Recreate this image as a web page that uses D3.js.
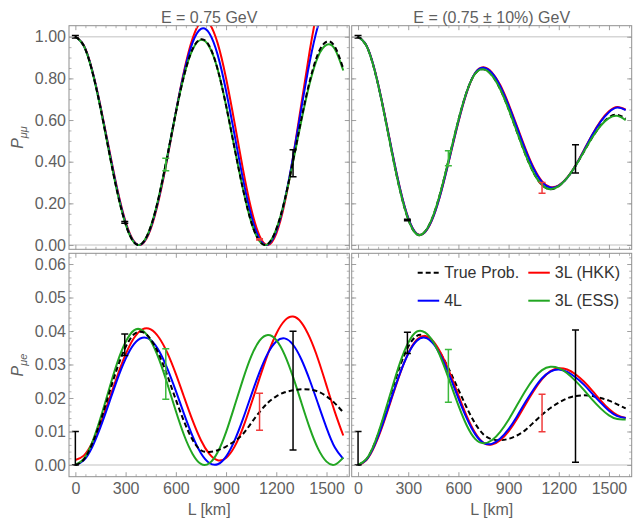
<!DOCTYPE html>
<html>
<head>
<meta charset="utf-8">
<script src="https://cdn.jsdelivr.net/npm/d3@7"></script>
<style>
  body { margin: 0; background: #fff; }
  svg { display: block; }
  text { font-family: "Liberation Sans", Arial, sans-serif; }
</style>
</head>
<body>
<div class="container"></div>
<script>
// ---- data ----
// baseline L (km) where the curves were sampled
const distKm = [0, 50, 100, 150, 200, 250, 300, 350, 400, 450, 500, 550, 600, 650, 700, 750, 800,
  850, 900, 950, 1000, 1050, 1100, 1150, 1200, 1250, 1300, 1350, 1400, 1450, 1500, 1550, 1600];

// P(mu->mu), E = 0.75 GeV
const pmmTrue = [1.000, 0.957, 0.836, 0.658, 0.452, 0.255, 0.100, 0.013, 0.009, 0.088, 0.237, 0.431, 0.635, 0.816, 0.941, 0.988, 0.956,
  0.843, 0.670, 0.468, 0.272, 0.111, 0.018, 0.005, 0.076, 0.216, 0.403, 0.606, 0.788, 0.920, 0.976, 0.952, 0.847];
const pmmHKK = [1.000, 0.959, 0.842, 0.668, 0.467, 0.270, 0.112, 0.018, 0.005, 0.077, 0.223, 0.419, 0.637, 0.838, 0.991, 1.071, 1.063,
  0.968, 0.801, 0.590, 0.368, 0.174, 0.044, 0.000, 0.055, 0.201, 0.421, 0.679, 0.934, 1.147, 1.280, 1.271, 1.127];
const pmm4L = [1.000, 0.958, 0.839, 0.663, 0.460, 0.263, 0.106, 0.015, 0.007, 0.083, 0.231, 0.426, 0.638, 0.831, 0.972, 1.038, 1.017,
  0.913, 0.741, 0.532, 0.321, 0.143, 0.029, 0.002, 0.066, 0.214, 0.422, 0.657, 0.881, 1.055, 1.152, 1.140, 1.058];
const pmmESS = [1.000, 0.957, 0.836, 0.658, 0.452, 0.255, 0.100, 0.013, 0.009, 0.088, 0.237, 0.431, 0.635, 0.816, 0.938, 0.985, 0.952,
  0.843, 0.670, 0.468, 0.272, 0.111, 0.018, 0.005, 0.076, 0.214, 0.399, 0.598, 0.778, 0.906, 0.961, 0.940, 0.838];

// P(mu->mu), E = 0.75 GeV +- 10%
const pmmAvgTrue = [1.000, 0.957, 0.835, 0.657, 0.454, 0.265, 0.123, 0.052, 0.064, 0.143, 0.275, 0.437, 0.600, 0.737, 0.823, 0.844, 0.815,
  0.748, 0.652, 0.543, 0.436, 0.346, 0.288, 0.268, 0.283, 0.322, 0.380, 0.448, 0.516, 0.574, 0.613, 0.625, 0.607];
const pmmAvgHKK = [1.000, 0.958, 0.839, 0.663, 0.463, 0.275, 0.130, 0.055, 0.061, 0.135, 0.264, 0.426, 0.591, 0.733, 0.826, 0.853, 0.829,
  0.768, 0.677, 0.571, 0.464, 0.371, 0.306, 0.278, 0.286, 0.323, 0.382, 0.455, 0.530, 0.595, 0.642, 0.663, 0.650];
const pmmAvg4L = [1.000, 0.958, 0.838, 0.661, 0.461, 0.273, 0.129, 0.054, 0.062, 0.137, 0.267, 0.429, 0.594, 0.735, 0.826, 0.851, 0.826,
  0.763, 0.671, 0.565, 0.458, 0.366, 0.302, 0.276, 0.285, 0.322, 0.381, 0.453, 0.528, 0.592, 0.638, 0.660, 0.648];
const pmmAvgESS = [1.000, 0.957, 0.835, 0.657, 0.454, 0.265, 0.123, 0.052, 0.064, 0.143, 0.275, 0.437, 0.600, 0.737, 0.823, 0.844, 0.815,
  0.748, 0.652, 0.543, 0.436, 0.346, 0.288, 0.268, 0.283, 0.322, 0.380, 0.448, 0.516, 0.572, 0.609, 0.620, 0.600];

// P(mu->e), E = 0.75 GeV
const pmeTrue = [0.0000, 0.0016, 0.0063, 0.0131, 0.0211, 0.0289, 0.0352, 0.0390, 0.0397, 0.0375, 0.0329, 0.0266, 0.0195, 0.0129, 0.0075, 0.0044, 0.0039,
  0.0044, 0.0055, 0.0071, 0.0092, 0.0125, 0.0158, 0.0186, 0.0205, 0.0217, 0.0223, 0.0226, 0.0225, 0.0219, 0.0205, 0.0184, 0.0157];
const pmeHKK = [0.0015, 0.0028, 0.0066, 0.0124, 0.0193, 0.0265, 0.0330, 0.0379, 0.0405, 0.0405, 0.0380, 0.0334, 0.0272, 0.0202, 0.0133, 0.0074, 0.0033,
  0.0014, 0.0021, 0.0054, 0.0110, 0.0182, 0.0259, 0.0332, 0.0392, 0.0431, 0.0443, 0.0425, 0.0380, 0.0315, 0.0237, 0.0158, 0.0088];
const pme4L = [0.0000, 0.0014, 0.0053, 0.0113, 0.0183, 0.0255, 0.0317, 0.0361, 0.0380, 0.0373, 0.0340, 0.0287, 0.0221, 0.0151, 0.0086, 0.0035, 0.0006,
  0.0002, 0.0025, 0.0072, 0.0136, 0.0208, 0.0277, 0.0334, 0.0369, 0.0378, 0.0359, 0.0315, 0.0253, 0.0182, 0.0111, 0.0052, 0.0018];
const pmeESS = [0.0000, 0.0018, 0.0067, 0.0140, 0.0224, 0.0305, 0.0367, 0.0402, 0.0402, 0.0371, 0.0315, 0.0241, 0.0161, 0.0088, 0.0033, 0.0003, 0.0005,
  0.0038, 0.0098, 0.0175, 0.0254, 0.0324, 0.0371, 0.0388, 0.0373, 0.0329, 0.0263, 0.0186, 0.0110, 0.0048, 0.0010, 0.0001, 0.0022];

// P(mu->e), E = 0.75 GeV +- 10%
const pmeAvgTrue = [0.0000, 0.0017, 0.0065, 0.0136, 0.0217, 0.0294, 0.0353, 0.0385, 0.0385, 0.0364, 0.0327, 0.0279, 0.0225, 0.0171, 0.0124, 0.0091, 0.0077,
  0.0074, 0.0078, 0.0088, 0.0104, 0.0127, 0.0150, 0.0170, 0.0186, 0.0199, 0.0206, 0.0208, 0.0206, 0.0200, 0.0192, 0.0181, 0.0169];
const pmeAvgHKK = [0.0000, 0.0015, 0.0058, 0.0122, 0.0197, 0.0271, 0.0333, 0.0373, 0.0385, 0.0369, 0.0329, 0.0273, 0.0208, 0.0146, 0.0096, 0.0066, 0.0061,
  0.0074, 0.0100, 0.0137, 0.0180, 0.0221, 0.0256, 0.0280, 0.0289, 0.0285, 0.0271, 0.0249, 0.0222, 0.0193, 0.0167, 0.0149, 0.0140];
const pmeAvg4L = [0.0000, 0.0016, 0.0061, 0.0126, 0.0201, 0.0273, 0.0332, 0.0370, 0.0380, 0.0362, 0.0320, 0.0263, 0.0199, 0.0139, 0.0092, 0.0066, 0.0063,
  0.0079, 0.0107, 0.0145, 0.0187, 0.0226, 0.0259, 0.0279, 0.0285, 0.0278, 0.0262, 0.0240, 0.0213, 0.0186, 0.0162, 0.0146, 0.0140];
const pmeAvgESS = [0.0000, 0.0018, 0.0067, 0.0141, 0.0224, 0.0304, 0.0365, 0.0398, 0.0396, 0.0367, 0.0314, 0.0247, 0.0178, 0.0118, 0.0078, 0.0065, 0.0074,
  0.0099, 0.0135, 0.0178, 0.0221, 0.0258, 0.0283, 0.0293, 0.0289, 0.0274, 0.0251, 0.0224, 0.0195, 0.0169, 0.0148, 0.0137, 0.0136];

// error bars (experiment baselines)
const barL = [0, 295, 540, 1100, 1300];
const barSeries = ["True Prob.", "True Prob.", "3L (ESS)", "3L (HKK)", "True Prob."];
const pmmBarLo = [0.994, 0.105, 0.356, 0.024, 0.328];
const pmmBarHi = [1.006, 0.113, 0.417, 0.030, 0.457];
const pmmAvgBarLo = [0.994, 0.116, 0.381, 0.249, 0.346];
const pmmAvgBarHi = [1.006, 0.124, 0.452, 0.300, 0.481];
const pmeBarLo = [0.0000, 0.0327, 0.0196, 0.0104, 0.0045];
const pmeBarHi = [0.0100, 0.0391, 0.0347, 0.0214, 0.0399];
const pmeAvgBarLo = [0.0000, 0.0333, 0.0187, 0.0099, 0.0008];
const pmeAvgBarHi = [0.0100, 0.0396, 0.0345, 0.0211, 0.0403];

// ticks and labels
const xTicks = [0, 300, 600, 900, 1200, 1500];
const pmmTicks = [0, 0.2, 0.4, 0.6, 0.8, 1.0];
const pmeTicks = [0, 0.01, 0.02, 0.03, 0.04, 0.05, 0.06];
const titles = ["E = 0.75 GeV", "E = (0.75 \u00b1 10%) GeV"];
const seriesColors = { "True Prob.": "#000000", "3L (HKK)": "#ff0000", "4L": "#0000ff", "3L (ESS)": "#22a622" };
const barColors = { "True Prob.": "#000000", "3L (HKK)": "#f03c3c", "3L (ESS)": "#3cb93c" };

// ---- layout ----
const width = 638, height = 519;
const xDomain = [-38, 1636];
const cols = [[69, 349.3], [351.7, 631.7]];
const rows = [[25.7, 249.3], [253.3, 476.7]];
const yDomains = [[-0.0206, 1.053], [-0.0035, 0.0632]];

const panels = [
  { row: 0, col: 0, curves: [pmmHKK, pmm4L, pmmESS, pmmTrue], order: ["3L (HKK)", "4L", "3L (ESS)", "True Prob."], lo: pmmBarLo, hi: pmmBarHi },
  { row: 0, col: 1, curves: [pmmAvgTrue, pmmAvgHKK, pmmAvg4L, pmmAvgESS], order: ["True Prob.", "3L (HKK)", "4L", "3L (ESS)"], lo: pmmAvgBarLo, hi: pmmAvgBarHi },
  { row: 1, col: 0, curves: [pmeHKK, pme4L, pmeESS, pmeTrue], order: ["3L (HKK)", "4L", "3L (ESS)", "True Prob."], lo: pmeBarLo, hi: pmeBarHi },
  { row: 1, col: 1, curves: [pmeAvgTrue, pmeAvgHKK, pmeAvg4L, pmeAvgESS], order: ["True Prob.", "3L (HKK)", "4L", "3L (ESS)"], lo: pmeAvgBarLo, hi: pmeAvgBarHi }
];

const svg = d3.select(".container")
  .append("svg")
  .attr("width", width)
  .attr("height", height);

const textColor = "#5f5f5f";
const frameColor = "#8f8f8f";

panels.forEach((p, i) => {
  const [x0, x1] = cols[p.col];
  const [y0, y1] = rows[p.row];
  const x = d3.scaleLinear().domain(xDomain).range([x0, x1]);
  const y = d3.scaleLinear().domain(yDomains[p.row]).range([y1, y0]);

  const g = svg.append("g");
  const clipId = "clip" + i;
  svg.append("clipPath").attr("id", clipId)
    .append("rect").attr("x", x0).attr("y", y0).attr("width", x1 - x0).attr("height", y1 - y0);

  // grid lines (1 and 0 for P_mumu, 0 for P_mue)
  const gridVals = p.row === 0 ? [0, 1] : [0];
  g.selectAll(".grid")
    .data(gridVals)
    .enter()
    .append("line")
    .attr("x1", x0).attr("x2", x1)
    .attr("y1", d => y(d)).attr("y2", d => y(d))
    .attr("stroke", "#d6d6d6")
    .attr("stroke-width", 1.6);

  // curves
  const line = d3.line()
    .x((d, j) => x(distKm[j]))
    .y(d => y(d))
    .curve(d3.curveNatural);

  const plot = g.append("g").attr("clip-path", `url(#${clipId})`);
  p.curves.forEach((vals, k) => {
    const name = p.order[k];
    plot.append("path")
      .attr("d", line(vals))
      .attr("fill", "none")
      .attr("stroke", seriesColors[name])
      .attr("stroke-width", 2)
      .attr("stroke-dasharray", name === "True Prob." ? "5,3" : null);
  });

  // error bars
  const bars = plot.append("g");
  barL.forEach((L, k) => {
    const c = barColors[barSeries[k]];
    const xb = x(L);
    bars.append("line").attr("x1", xb).attr("x2", xb)
      .attr("y1", y(p.lo[k])).attr("y2", y(p.hi[k]))
      .attr("stroke", c).attr("stroke-width", 1.5);
    [p.lo[k], p.hi[k]].forEach(v => {
      bars.append("line").attr("x1", xb - 3.5).attr("x2", xb + 3.5)
        .attr("y1", y(v)).attr("y2", y(v))
        .attr("stroke", c).attr("stroke-width", 1.5);
    });
  });

  // ticks on all sides, pointing inwards
  const xMinor = d3.range(0, 1621, 60).filter(v => v % 300 !== 0);
  const yMinor = p.row === 0
    ? d3.range(0, 21).map(v => v * 0.05)
    : d3.range(0, 32).map(v => v * 0.002);
  const yMajor = p.row === 0 ? pmmTicks : pmeTicks;

  const sides = [
    { make: () => d3.axisBottom(x), pos: `translate(0,${y1})`, major: xTicks, minor: xMinor, labels: p.row === 1, isY: false },
    { make: () => d3.axisTop(x), pos: `translate(0,${y0})`, major: xTicks, minor: xMinor, labels: false, isY: false },
    { make: () => d3.axisLeft(y), pos: `translate(${x0},0)`, major: yMajor, minor: yMinor, labels: p.col === 0, isY: true },
    { make: () => d3.axisRight(y), pos: `translate(${x1},0)`, major: yMajor, minor: yMinor, labels: false, isY: true }
  ];
  sides.forEach(a => {
    const fmt = a.isY ? d3.format(".2f") : d3.format("d");
    // minor ticks
    g.append("g").attr("transform", a.pos)
      .call(a.make().tickValues(a.minor).tickSize(-2.5).tickFormat(""))
      .call(s => s.select(".domain").remove())
      .call(s => s.selectAll("line").attr("stroke", "#b5b5b5"));
    // major ticks and labels
    g.append("g").attr("transform", a.pos)
      .call(a.make()
        .tickValues(a.major)
        .tickSize(-4.5)
        .tickPadding(a.isY ? 3 : 6)
        .tickFormat(a.labels ? fmt : ""))
      .call(s => s.select(".domain").remove())
      .call(s => s.selectAll("line").attr("stroke", "#a0a0a0"))
      .call(s => s.selectAll("text").attr("fill", textColor).style("font-size", "16px"));
  });

  // frame
  g.append("rect")
    .attr("x", x0).attr("y", y0)
    .attr("width", x1 - x0).attr("height", y1 - y0)
    .attr("fill", "none")
    .attr("stroke", frameColor)
    .attr("stroke-width", 1);

  // titles and axis labels
  if (p.row === 0) {
    svg.append("text")
      .attr("x", (x0 + x1) / 2).attr("y", 22.5)
      .attr("text-anchor", "middle")
      .attr("fill", textColor)
      .style("font-size", "16px")
      .text(titles[p.col]);
  } else {
    svg.append("text")
      .attr("x", (x0 + x1) / 2).attr("y", 515)
      .attr("text-anchor", "middle")
      .attr("fill", textColor)
      .style("font-size", "16px")
      .text("L [km]");
  }
  if (p.col === 0) {
    const lab = svg.append("text")
      .attr("transform", `translate(23,${(y0 + y1) / 2}) rotate(-90)`)
      .attr("text-anchor", "middle")
      .attr("fill", textColor)
      .style("font-size", "16px");
    lab.append("tspan").style("font-style", "italic").text("P");
    lab.append("tspan").attr("dy", 4).style("font-size", "11px").style("font-style", "italic")
      .text(p.row === 0 ? "\u03bc\u03bc" : "\u03bce");
  }
});

// legend inside the lower right panel
const legendRows = [
  { name: "True Prob.", lx: 417.7, ly: 272.7 },
  { name: "3L (HKK)", lx: 528.3, ly: 272.7 },
  { name: "4L", lx: 417.7, ly: 300.7 },
  { name: "3L (ESS)", lx: 528.3, ly: 300.7 }
];
const legend = svg.append("g");
legendRows.forEach(r => {
  legend.append("line")
    .attr("x1", r.lx).attr("x2", r.lx + 21.5)
    .attr("y1", r.ly).attr("y2", r.ly)
    .attr("stroke", seriesColors[r.name])
    .attr("stroke-width", 2)
    .attr("stroke-dasharray", r.name === "True Prob." ? "5,3" : null);
  legend.append("text")
    .attr("x", r.lx + 26.5).attr("y", r.ly + 5.7)
    .attr("fill", "#333")
    .style("font-size", "16px")
    .text(r.name);
});
</script>
</body>
</html>
